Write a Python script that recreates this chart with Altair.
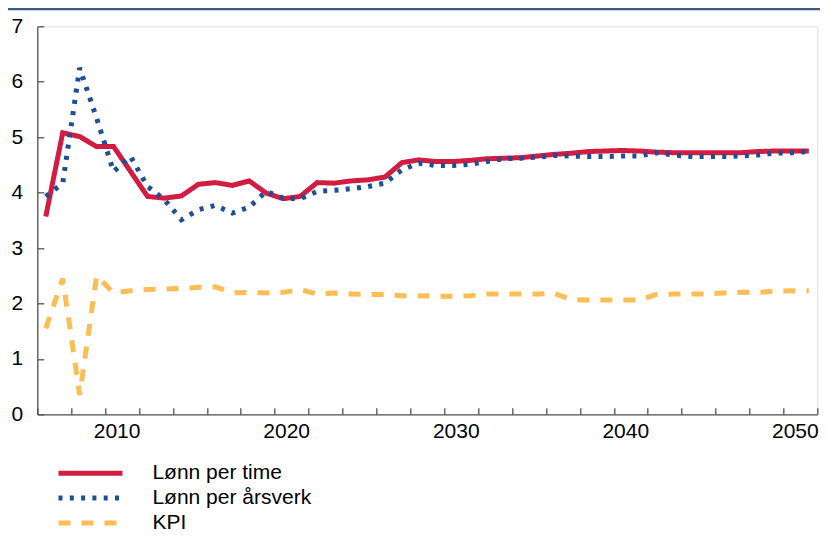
import altair as alt
import pandas as pd

# ---------------- data ----------------
years = list(range(2006, 2052))

lonn_time = [3.57, 5.08, 5.01, 4.83, 4.83, 4.38, 3.93, 3.90, 3.94, 4.15,
             4.18, 4.13, 4.21, 3.99, 3.89, 3.93, 4.18, 4.17, 4.21, 4.23,
             4.28, 4.54, 4.59, 4.56, 4.56, 4.58, 4.61, 4.62, 4.63, 4.66,
             4.69, 4.71, 4.74, 4.75, 4.76, 4.75, 4.73, 4.72, 4.72, 4.72,
             4.72, 4.72, 4.74, 4.75, 4.75, 4.75]

lonn_aarsverk = [3.93, 4.17, 6.25, 5.34, 4.38, 4.65, 4.11, 3.87, 3.51, 3.69,
                 3.77, 3.63, 3.74, 4.02, 3.90, 3.89, 4.02, 4.04, 4.07, 4.11,
                 4.17, 4.41, 4.53, 4.49, 4.49, 4.51, 4.56, 4.61, 4.62, 4.64,
                 4.67, 4.66, 4.65, 4.65, 4.66, 4.66, 4.72, 4.68, 4.65, 4.65,
                 4.65, 4.66, 4.68, 4.71, 4.72, 4.74]

kpi = [1.55, 2.45, 0.35, 2.50, 2.19, 2.23, 2.25, 2.26, 2.27, 2.29,
       2.30, 2.19, 2.20, 2.19, 2.20, 2.25, 2.17, 2.19, 2.17, 2.16,
       2.16, 2.14, 2.14, 2.13, 2.13, 2.14, 2.17, 2.17, 2.17, 2.17,
       2.18, 2.07, 2.06, 2.06, 2.06, 2.06, 2.16, 2.17, 2.17, 2.17,
       2.19, 2.20, 2.20, 2.22, 2.23, 2.23]

series_names = ["Lønn per time", "Lønn per årsverk", "KPI"]
series_colors = ["#d21c42", "#1d4f95", "#fdbd55"]
series_dashes = [[1, 0], [4, 7.3], [12, 11]]

x_label_values = [2010, 2020, 2030, 2040, 2050]
x_tick_values = [2005.5 + 2 * i for i in range(24)]
y_values = [0, 1, 2, 3, 4, 5, 6, 7]

rows = []
for name, vals in zip(series_names, [lonn_time, lonn_aarsverk, kpi]):
    for yr, v in zip(years, vals):
        rows.append({"year": yr, "value": v, "series": name})
df = pd.DataFrame(rows)

# ---------------- chart ----------------
W, H = 780, 388
PAD_L, PAD_T = 29.3, 18.3
TOTAL_W, TOTAL_H = 812, 526
FONT = "Liberation Sans"
AX = "#555555"

x_scale = alt.Scale(domain=[2005.5, 2051.5], nice=False, zero=False)
y_scale = alt.Scale(domain=[0, 7], nice=False, zero=True)

legend = alt.Legend(
    title=None, orient="none", legendX=18.7, legendY=436, direction="vertical",
    symbolType="stroke", symbolSize=4096, symbolStrokeWidth=5,
    labelFont=FONT, labelFontSize=21, labelColor="#000000",
    labelOffset=27.4, clipHeight=22, rowPadding=2.8, padding=0, symbolOffset=0,
)

lines = alt.Chart(df).mark_line(strokeCap="butt", strokeJoin="miter", strokeWidth=5).encode(
    x=alt.X("year:Q", scale=x_scale, axis=alt.Axis(
        orient="bottom", values=x_label_values, format="d", ticks=False, tickSize=0,
        labelPadding=6.5, labelOffset=3, domainColor=AX, domainWidth=1.3, grid=False,
        title=None, labelFontSize=21, labelFont=FONT, labelColor="#000000")),
    y=alt.Y("value:Q", scale=y_scale, axis=alt.Axis(
        orient="left", values=y_values, ticks=False, tickSize=0, labelPadding=14.5,
        domainColor=AX, domainWidth=1.3, grid=False, title=None,
        labelFontSize=21, labelFont=FONT, labelColor="#000000")),
    color=alt.Color("series:N", scale=alt.Scale(domain=series_names, range=series_colors), legend=legend),
    strokeDash=alt.StrokeDash("series:N", scale=alt.Scale(domain=series_names, range=series_dashes), legend=legend),
)

ticks = alt.Chart(df).mark_point(opacity=0).encode(
    x=alt.X("year:Q", scale=x_scale, axis=alt.Axis(
        orient="top", offset=-H, values=x_tick_values, labels=False, domain=False,
        ticks=True, tickSize=6.5, tickColor=AX, tickWidth=1.3, grid=False, title=None)),
    y=alt.Y("value:Q", scale=y_scale, axis=alt.Axis(
        orient="right", offset=-W, values=y_values, labels=False, domain=False,
        ticks=True, tickSize=6.5, tickColor=AX, tickWidth=1.3, grid=False, title=None)),
)

header = alt.Chart(pd.DataFrame({"k": [0]})).mark_rule(color="#3c5a82", strokeWidth=3).encode(
    x=alt.value(-30), x2=alt.value(W + 40), y=alt.value(-17.5)
)

chart = alt.layer(header, ticks, lines).resolve_axis(
    x="independent", y="independent"
).properties(
    width=W, height=H, autosize="none",
    padding={"left": PAD_L, "top": PAD_T, "right": TOTAL_W - W - PAD_L,
             "bottom": TOTAL_H - H - PAD_T},
).configure_view(stroke=None).configure(font=FONT, background="white")

chart.save("out.html", embed_options={"renderer": "svg", "actions": False})
